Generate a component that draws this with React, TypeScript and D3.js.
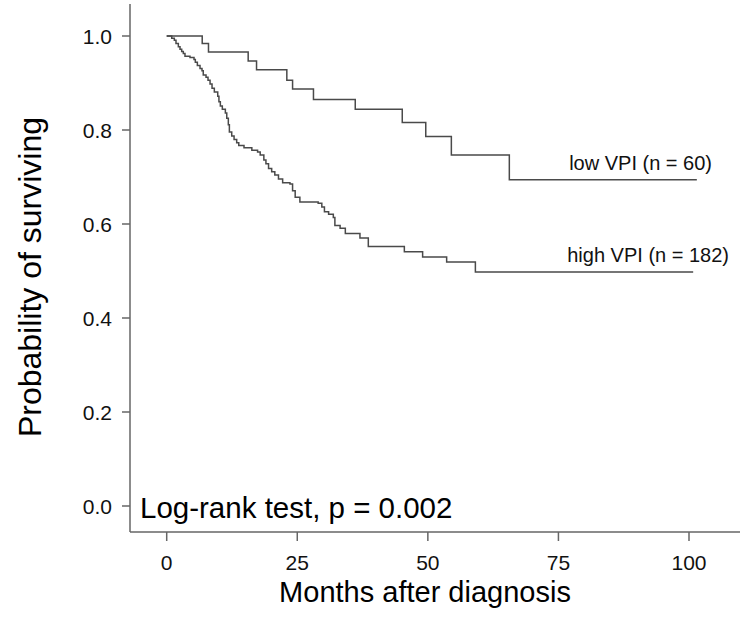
import { useRef, useEffect } from 'react';
import * as d3 from 'd3';

// Kaplan-Meier steps (months, survival after the drop)
const lowTimes = [0, 6.8, 8.0, 15.6, 17.2, 23.0, 24.1, 28.1, 36.1, 45.1, 49.6, 54.5, 65.6, 101.5];
const lowSurv = [1.0, 0.984, 0.966, 0.947, 0.928, 0.906, 0.887, 0.865, 0.844, 0.816, 0.786, 0.747, 0.694, 0.694];

const highTimes = [
  0, 0.96, 1.46, 1.78, 2.23, 2.55, 2.87, 3.18, 3.5, 4.46, 5.23, 5.48, 5.87, 6.38, 6.76, 7.0,
  7.53, 7.91, 8.3, 8.68, 9.12, 9.77, 10.0, 10.27, 10.65, 11.23, 11.5, 11.8, 12.0, 12.45, 12.9,
  13.4, 13.8, 14.8, 16.3, 17.4, 17.9, 18.6, 19.0, 19.5, 20.1, 20.7, 21.4, 22.2, 23.6, 24.1,
  24.6, 25.5, 29.0, 29.7, 30.2, 31.0, 31.9, 32.2, 33.2, 34.2, 37.0, 38.6, 45.5, 49.0, 53.6,
  59.1, 100.8
];
const highSurv = [
  1.0, 0.995, 0.991, 0.984, 0.977, 0.972, 0.967, 0.963, 0.957, 0.954, 0.95, 0.944, 0.937,
  0.931, 0.926, 0.917, 0.912, 0.906, 0.898, 0.889, 0.881, 0.872, 0.86, 0.851, 0.844, 0.836,
  0.825, 0.811, 0.796, 0.787, 0.78, 0.773, 0.767, 0.762, 0.757, 0.753, 0.747, 0.736, 0.728,
  0.718, 0.711, 0.704, 0.696, 0.688, 0.685, 0.671, 0.657, 0.647, 0.644, 0.636, 0.626, 0.621,
  0.614, 0.597, 0.591, 0.58, 0.57, 0.552, 0.541, 0.53, 0.519, 0.498, 0.498
];

const xTicks = [0, 25, 50, 75, 100];
const yTicks = [0, 0.2, 0.4, 0.6, 0.8, 1.0];

const groupLabels = ['low VPI (n = 60)', 'high VPI (n = 182)'];
const testLabel = 'Log-rank test, p = 0.002';
const xTitle = 'Months after diagnosis';
const yTitle = 'Probability of surviving';

const width = 746;
const height = 624;
const font = '"Liberation Sans", Arial, sans-serif';

const App = () => {
  const svgRef = useRef<SVGSVGElement>(null);

  useEffect(() => {
    if (!svgRef.current) return;
    const svg = d3.select(svgRef.current);
    svg.selectAll('*').remove();

    const axisLeftX = 130;
    const axisBottomY = 532;

    const x = d3.scaleLinear().domain([0, 100]).range([166.7, 689]);
    const y = d3.scaleLinear().domain([0, 1]).range([506, 36]);

    const axisColor = '#666';
    const lineColor = '#4a4a4a';

    // Axis lines
    svg.append('line')
      .attr('x1', axisLeftX).attr('x2', axisLeftX)
      .attr('y1', 4).attr('y2', axisBottomY)
      .attr('stroke', axisColor).attr('stroke-width', 1.5);
    svg.append('line')
      .attr('x1', axisLeftX).attr('x2', 740)
      .attr('y1', axisBottomY).attr('y2', axisBottomY)
      .attr('stroke', axisColor).attr('stroke-width', 1.5);

    // Y ticks
    const yg = svg.append('g');
    yTicks.forEach(t => {
      yg.append('line')
        .attr('x1', axisLeftX - 8).attr('x2', axisLeftX)
        .attr('y1', y(t)).attr('y2', y(t))
        .attr('stroke', axisColor).attr('stroke-width', 1.5);
      yg.append('text')
        .attr('x', 112).attr('y', y(t) + 7.5)
        .attr('text-anchor', 'end')
        .attr('font-family', font).attr('font-size', 21)
        .attr('fill', '#111')
        .text(d3.format('.1f')(t));
    });

    // X ticks
    const xg = svg.append('g');
    xTicks.forEach(t => {
      xg.append('line')
        .attr('x1', x(t)).attr('x2', x(t))
        .attr('y1', axisBottomY).attr('y2', axisBottomY + 9)
        .attr('stroke', axisColor).attr('stroke-width', 1.5);
      xg.append('text')
        .attr('x', x(t)).attr('y', 570)
        .attr('text-anchor', 'middle')
        .attr('font-family', font).attr('font-size', 21)
        .attr('fill', '#111')
        .text(String(t));
    });

    // Survival curves
    const line = d3.line<[number, number]>()
      .x(d => x(d[0]))
      .y(d => y(d[1]))
      .curve(d3.curveStepAfter);

    const lowPts = lowTimes.map((t, i) => [t, lowSurv[i]] as [number, number]);
    const highPts = highTimes.map((t, i) => [t, highSurv[i]] as [number, number]);

    [lowPts, highPts].forEach(pts => {
      svg.append('path')
        .datum(pts)
        .attr('fill', 'none')
        .attr('stroke', lineColor)
        .attr('stroke-width', 1.5)
        .attr('d', line);
    });

    // Group labels
    svg.append('text')
      .attr('x', 712).attr('y', y(lowSurv[lowSurv.length - 1]) - 10)
      .attr('text-anchor', 'end')
      .attr('font-family', font).attr('font-size', 20)
      .attr('fill', '#111')
      .text(groupLabels[0]);
    svg.append('text')
      .attr('x', 729).attr('y', y(highSurv[highSurv.length - 1]) - 10)
      .attr('text-anchor', 'end')
      .attr('font-family', font).attr('font-size', 20)
      .attr('fill', '#111')
      .text(groupLabels[1]);

    // Test annotation
    svg.append('text')
      .attr('x', 140).attr('y', 518)
      .attr('font-family', font).attr('font-size', 29.5)
      .attr('fill', '#000')
      .text(testLabel);

    // Axis titles
    svg.append('text')
      .attr('x', 425).attr('y', 602)
      .attr('text-anchor', 'middle')
      .attr('font-family', font).attr('font-size', 29)
      .attr('fill', '#000')
      .text(xTitle);
    svg.append('text')
      .attr('transform', `translate(41, 277) rotate(-90)`)
      .attr('text-anchor', 'middle')
      .attr('font-family', font).attr('font-size', 32)
      .attr('fill', '#000')
      .text(yTitle);
  }, []);

  return (
    <svg
      ref={svgRef}
      width={width}
      height={height}
      style={{ position: 'absolute', left: 0, top: 0, background: '#fff' }}
    />
  );
};

export default App;
